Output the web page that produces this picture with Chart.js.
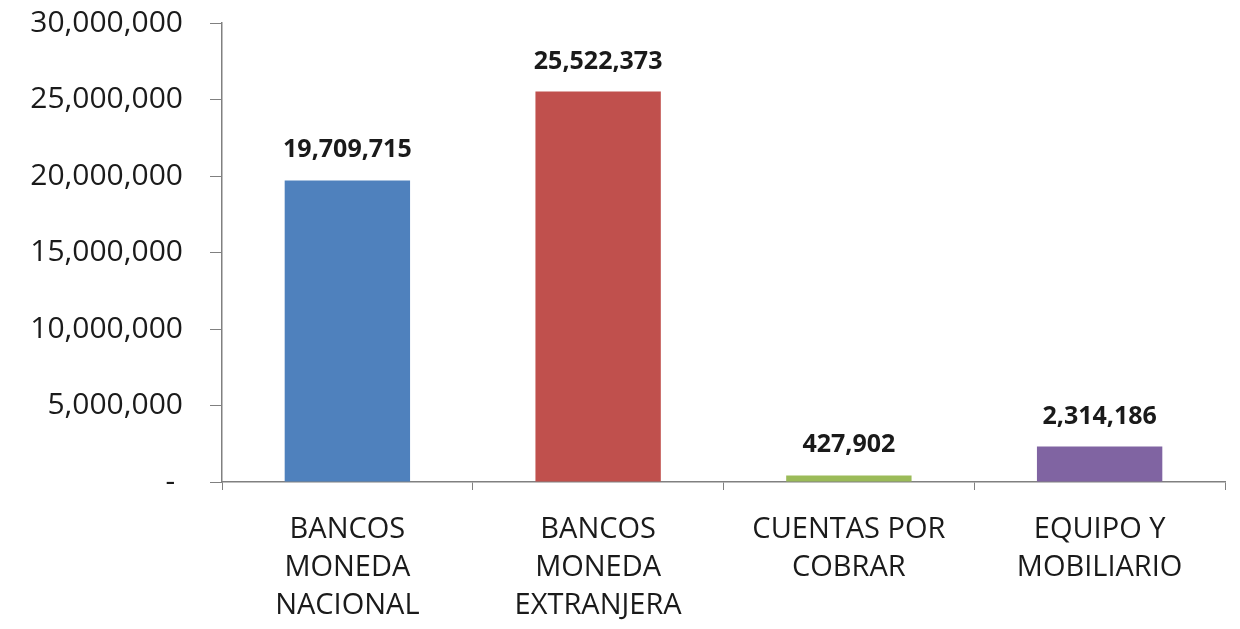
<!DOCTYPE html>
<html>
<head>
<meta charset="utf-8">
<script src="https://cdn.jsdelivr.net/npm/chart.js@4.4.0/dist/chart.umd.min.js"></script>
<style>
  html, body { margin: 0; padding: 0; background: #fff; }
  #wrap { width: 1240px; height: 629px; position: relative; }
</style>
</head>
<body>
<div id="wrap"><canvas id="chart"></canvas></div>
<script>
// Chart data
const categories = [
    ['BANCOS', 'MONEDA', 'NACIONAL'],
    ['BANCOS', 'MONEDA', 'EXTRANJERA'],
    ['CUENTAS POR', 'COBRAR'],
    ['EQUIPO Y', 'MOBILIARIO']
];
const values = [19709715, 25522373, 427902, 2314186];
const barColors = ['#4F81BD', '#C0504D', '#9BBB59', '#8064A2'];
const yTicks = [0, 5000000, 10000000, 15000000, 20000000, 25000000, 30000000];

const fontFamily = '"Open Sans", "Noto Sans", sans-serif';

function fmt(v) {
    return v.toLocaleString('en-US');
}

// Draw value labels above each bar
const valueLabels = {
    id: 'valueLabels',
    afterDatasetsDraw(chart) {
        const ctx = chart.ctx;
        const meta = chart.getDatasetMeta(0);
        ctx.save();
        ctx.font = 'bold 25px ' + fontFamily;
        ctx.fillStyle = '#1a1a1a';
        ctx.textAlign = 'center';
        ctx.textBaseline = 'alphabetic';
        meta.data.forEach((bar, i) => {
            ctx.fillText(fmt(values[i]), bar.x, bar.y - 23);
        });
        ctx.restore();
    }
};

new Chart(document.getElementById('chart'), {
    type: 'bar',
    data: {
        labels: categories,
        datasets: [{
            data: values,
            backgroundColor: barColors,
            barPercentage: 0.5,
            categoryPercentage: 1.0
        }]
    },
    options: {
        responsive: true,
        maintainAspectRatio: false,
        animation: false,
        layout: { padding: { top: 23, right: 15, left: 0, bottom: 0 } },
        plugins: {
            legend: { display: false },
            tooltip: { enabled: false }
        },
        scales: {
            x: {
                grid: {
                    offset: true,
                    drawOnChartArea: false,
                    drawTicks: true,
                    tickLength: 8,
                    color: '#808080'
                },
                border: { display: true, color: '#808080', width: 1.5 },
                ticks: {
                    color: '#1a1a1a',
                    font: { family: fontFamily, size: 29, lineHeight: 1.31 },
                    padding: 21,
                    maxRotation: 0,
                    autoSkip: false
                },
                afterFit(scale) { scale.height = 147; }
            },
            y: {
                min: 0,
                max: 30000000,
                afterBuildTicks(scale) {
                    scale.ticks = yTicks.map(v => ({ value: v }));
                },
                grid: {
                    drawOnChartArea: false,
                    drawTicks: true,
                    tickLength: 12,
                    color: '#808080'
                },
                border: { display: true, color: '#808080', width: 1.5 },
                ticks: {
                    color: '#1a1a1a',
                    font: { family: fontFamily, size: 30 },
                    padding: 27,
                    callback: v => v === 0 ? '- ' : fmt(v)
                },
                afterFit(scale) {
                    scale.width = 222;
                    scale.paddingTop = 0;
                    scale.paddingBottom = 0;
                }
            }
        }
    },
    plugins: [valueLabels]
});
</script>
</body>
</html>
